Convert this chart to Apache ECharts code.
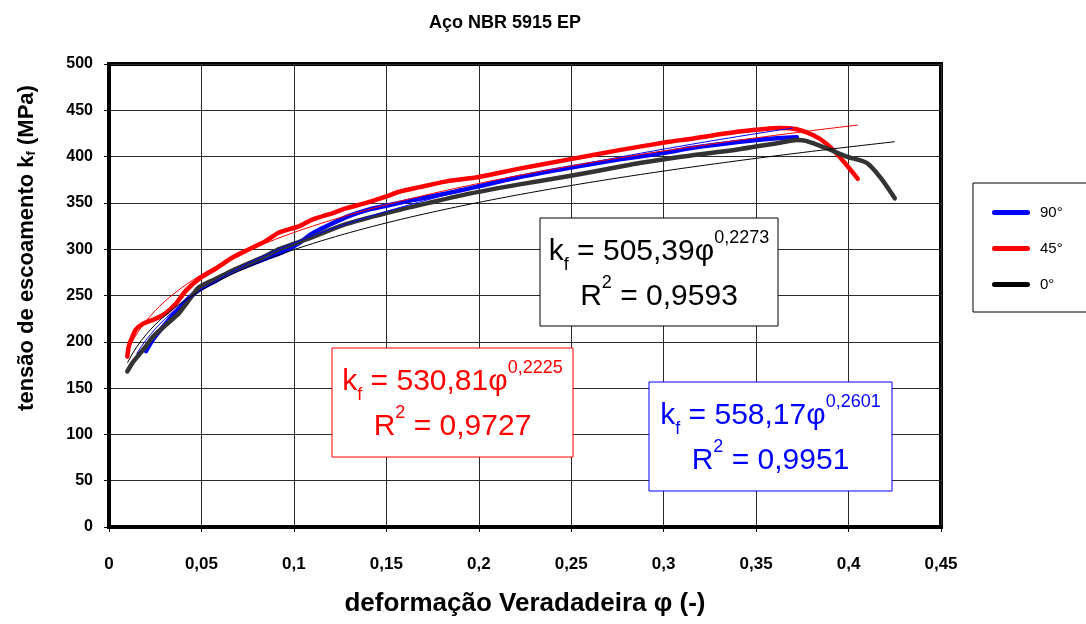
<!DOCTYPE html>
<html>
<head>
<meta charset="utf-8">
<script src="https://cdn.jsdelivr.net/npm/echarts@6/dist/echarts.min.js"></script>
<style>
  html, body { margin: 0; padding: 0; background: #fff; }
  #chart { width: 1086px; height: 624px; }
</style>
</head>
<body>
<div id="chart"></div>
<script>
// Flow curves (true strain φ, flow stress kf in MPa) for three sheet orientations
const phi90 = [0.020, 0.024, 0.030, 0.035, 0.0415, 0.0487, 0.0578, 0.0668, 0.0758, 0.0849, 0.094, 0.103, 0.110, 0.121, 0.130, 0.139, 0.150, 0.164, 0.182, 0.200, 0.222, 0.249, 0.276, 0.287, 0.303, 0.314, 0.341, 0.363, 0.372];
const kf90  = [190, 203, 218, 230, 244, 256, 266, 276, 283, 290, 297, 307, 317, 328, 336, 342, 347, 353, 360, 368, 378, 388, 397, 400, 405, 409, 416, 420, 421];

const phi45 = [0.0099, 0.0108, 0.0126, 0.0144, 0.018, 0.0253, 0.0307, 0.0361, 0.0415, 0.0487, 0.0578, 0.0668, 0.0758, 0.0849, 0.092, 0.103, 0.110, 0.121, 0.128, 0.139, 0.150, 0.157, 0.168, 0.182, 0.200, 0.222, 0.249, 0.276, 0.303, 0.314, 0.341, 0.363, 0.372, 0.381, 0.388, 0.395, 0.405];
const kf45  = [184, 196, 205, 213, 219, 225, 231, 241, 255, 268, 279, 291, 300, 309, 318, 325, 332, 339, 344, 350, 357, 362, 367, 373, 378, 387, 397, 407, 416, 419, 427, 431, 429.5, 423, 414, 400, 376];

const phi0 = [0.0099, 0.0126, 0.0162, 0.0199, 0.0235, 0.0307, 0.0379, 0.0406, 0.0451, 0.0487, 0.0578, 0.0668, 0.0758, 0.0849, 0.092, 0.103, 0.110, 0.128, 0.150, 0.173, 0.195, 0.222, 0.249, 0.276, 0.287, 0.303, 0.314, 0.341, 0.363, 0.372, 0.377, 0.388, 0.399, 0.410, 0.417, 0.425];
const kf0  = [168, 177, 186, 195, 205, 218, 231, 238, 250, 259, 268, 277, 285, 293, 300, 308, 313, 327, 339, 350, 360, 370, 379, 389, 393, 398, 401, 408, 415, 418, 417, 409, 400, 393, 378, 355];

// Power-law fits kf = C·φ^n as printed in the annotation boxes, with their φ range
const fit90 = [558.17, 0.2601];
const fit45 = [530.81, 0.2225];
const fit0  = [505.39, 0.2273];
const fitRange90 = [0.015, 0.37];
const fitRange45 = [0.01, 0.405];
const fitRange0  = [0.01, 0.425];

const seriesNames = ['90°', '45°', '0°'];
const xTickLabels = ['0', '0,05', '0,1', '0,15', '0,2', '0,25', '0,3', '0,35', '0,4', '0,45'];
const yTickLabels = ['0', '50', '100', '150', '200', '250', '300', '350', '400', '450', '500'];

const pairs = (xs, ys) => xs.map((x, i) => [x, ys[i]]);
function fitCurve(coef, range) {
  const pts = [];
  const step = 0.0025;
  for (let p = range[0]; p < range[1] + 1e-9; p += step) pts.push([p, coef[0] * Math.pow(p, coef[1])]);
  const last = pts[pts.length - 1][0];
  if (last < range[1] - 1e-6) pts.push([range[1], coef[0] * Math.pow(range[1], coef[1])]);
  return pts;
}

const FONT = '"Liberation Sans", Arial, sans-serif';
const C_BLUE = '#0000ff', C_RED = '#ff0000', C_DARK = '#333333';
// legend swatch: a short bar with rounded ends
const CAPPED_BAR = 'path://M2.5,0 L35.5,0 A2.5,2.5 0 0 1 35.5,5 L2.5,5 A2.5,2.5 0 0 1 2.5,0 Z';

const chart = echarts.init(document.getElementById('chart'), null, { renderer: 'canvas' });

function thick(name, data, color) {
  return {
    name, type: 'line', data, symbol: 'none', smooth: 0.25,
    lineStyle: { color, width: 4.5, cap: 'round', join: 'round' },
    itemStyle: { color }, z: 3, animation: false
  };
}
function thin(data, color) {
  return {
    type: 'line', data, symbol: 'none', smooth: false, silent: true,
    lineStyle: { color, width: 1 }, z: 4, animation: false
  };
}

function eqBox(x, y, w, h, color, C, n, r2) {
  return {
    type: 'group',
    children: [
      { type: 'rect', shape: { x, y, width: w, height: h },
        style: { fill: '#fff', stroke: color, lineWidth: 1 }, z: 10 },
      { type: 'text', x: x + w / 2, y: y + h / 2 + 2, z: 11,
        style: {
          text: 'k{sub|f} = ' + C + 'φ{sup|' + n + '}\nR{sup|2} = ' + r2,
          align: 'center', verticalAlign: 'middle',
          fill: color, font: '30px ' + FONT, lineHeight: 45,
          rich: {
            sub: { fontSize: 18, fontFamily: FONT, fill: color, verticalAlign: 'bottom', lineHeight: 30 },
            sup: { fontSize: 18, fontFamily: FONT, fill: color, verticalAlign: 'top', lineHeight: 18 }
          }
        } }
    ]
  };
}

const option = {
  backgroundColor: '#fff',
  animation: false,
  title: {
    text: 'Aço NBR 5915 EP', left: 500, top: 9, textAlign: 'center',
    textStyle: { fontFamily: FONT, fontWeight: 'bold', fontSize: 18, color: '#000' }
  },
  legend: {
    orient: 'vertical', left: 973, top: 183,
    padding: [22, 40, 20, 19], itemWidth: 38, itemHeight: 5, itemGap: 21,
    icon: CAPPED_BAR,
    backgroundColor: '#fff', borderColor: '#000', borderWidth: 1,
    textStyle: { fontFamily: FONT, fontSize: 15, lineHeight: 14, color: '#000', padding: [0, 0, 0, 5] },
    data: [
      { name: seriesNames[0] },
      { name: seriesNames[1] },
      { name: seriesNames[2], itemStyle: { color: '#000' } }
    ]
  },
  grid: {
    left: 109, right: 145, top: 64, bottom: 97,
    show: true, borderColor: '#000', borderWidth: 4, backgroundColor: 'transparent'
  },
  xAxis: {
    type: 'value', min: 0, max: 0.45, interval: 0.05,
    name: 'deformação Veradadeira φ (-)', nameLocation: 'middle', nameGap: 64,
    nameTextStyle: { fontFamily: FONT, fontWeight: 'bold', fontSize: 26, color: '#000' },
    axisLine: { show: true, onZero: false, lineStyle: { color: '#000', width: 4 } },
    axisTick: { show: true, inside: false, length: 5, lineStyle: { color: '#000', width: 1 } },
    axisLabel: {
      margin: 29, fontFamily: FONT, fontWeight: 'bold', fontSize: 17, color: '#000',
      formatter: v => xTickLabels[Math.round(v / 0.05)]
    },
    splitLine: { show: true, lineStyle: { color: '#2a2a2a', width: 1 } }
  },
  yAxis: {
    type: 'value', min: 0, max: 500, interval: 50,
    axisLine: { show: true, onZero: false, lineStyle: { color: '#000', width: 4 } },
    axisTick: { show: true, inside: false, length: 5, lineStyle: { color: '#000', width: 1 } },
    axisLabel: {
      margin: 16, fontFamily: FONT, fontWeight: 'bold', fontSize: 16, color: '#000',
      formatter: v => yTickLabels[Math.round(v / 50)]
    },
    splitLine: { show: true, lineStyle: { color: '#2a2a2a', width: 1 } }
  },
  series: [
    thick(seriesNames[0], pairs(phi90, kf90), C_BLUE),
    thick(seriesNames[1], pairs(phi45, kf45), C_RED),
    thick(seriesNames[2], pairs(phi0, kf0), C_DARK),
    thin(fitCurve(fit90, fitRange90), C_BLUE),
    thin(fitCurve(fit45, fitRange45), C_RED),
    thin(fitCurve(fit0, fitRange0), '#000')
  ],
  graphic: [
    {
      type: 'text', x: 27, y: 248, rotation: Math.PI / 2, z: 20,
      style: {
        text: 'tensão de escoamento k{s|f} (MPa)',
        align: 'center', verticalAlign: 'middle',
        fill: '#000', font: 'bold 22px ' + FONT,
        rich: { s: { fontSize: 13, fontWeight: 'bold', fontFamily: FONT, fill: '#000', verticalAlign: 'bottom', lineHeight: 22 } }
      }
    },
    eqBox(540, 218, 238, 108, '#000', '505,39', '0,2273', '0,9593'),
    eqBox(332, 348, 241, 109, C_RED, '530,81', '0,2225', '0,9727'),
    eqBox(649, 382, 243, 109, C_BLUE, '558,17', '0,2601', '0,9951')
  ]
};

chart.setOption(option);
</script>
</body>
</html>
